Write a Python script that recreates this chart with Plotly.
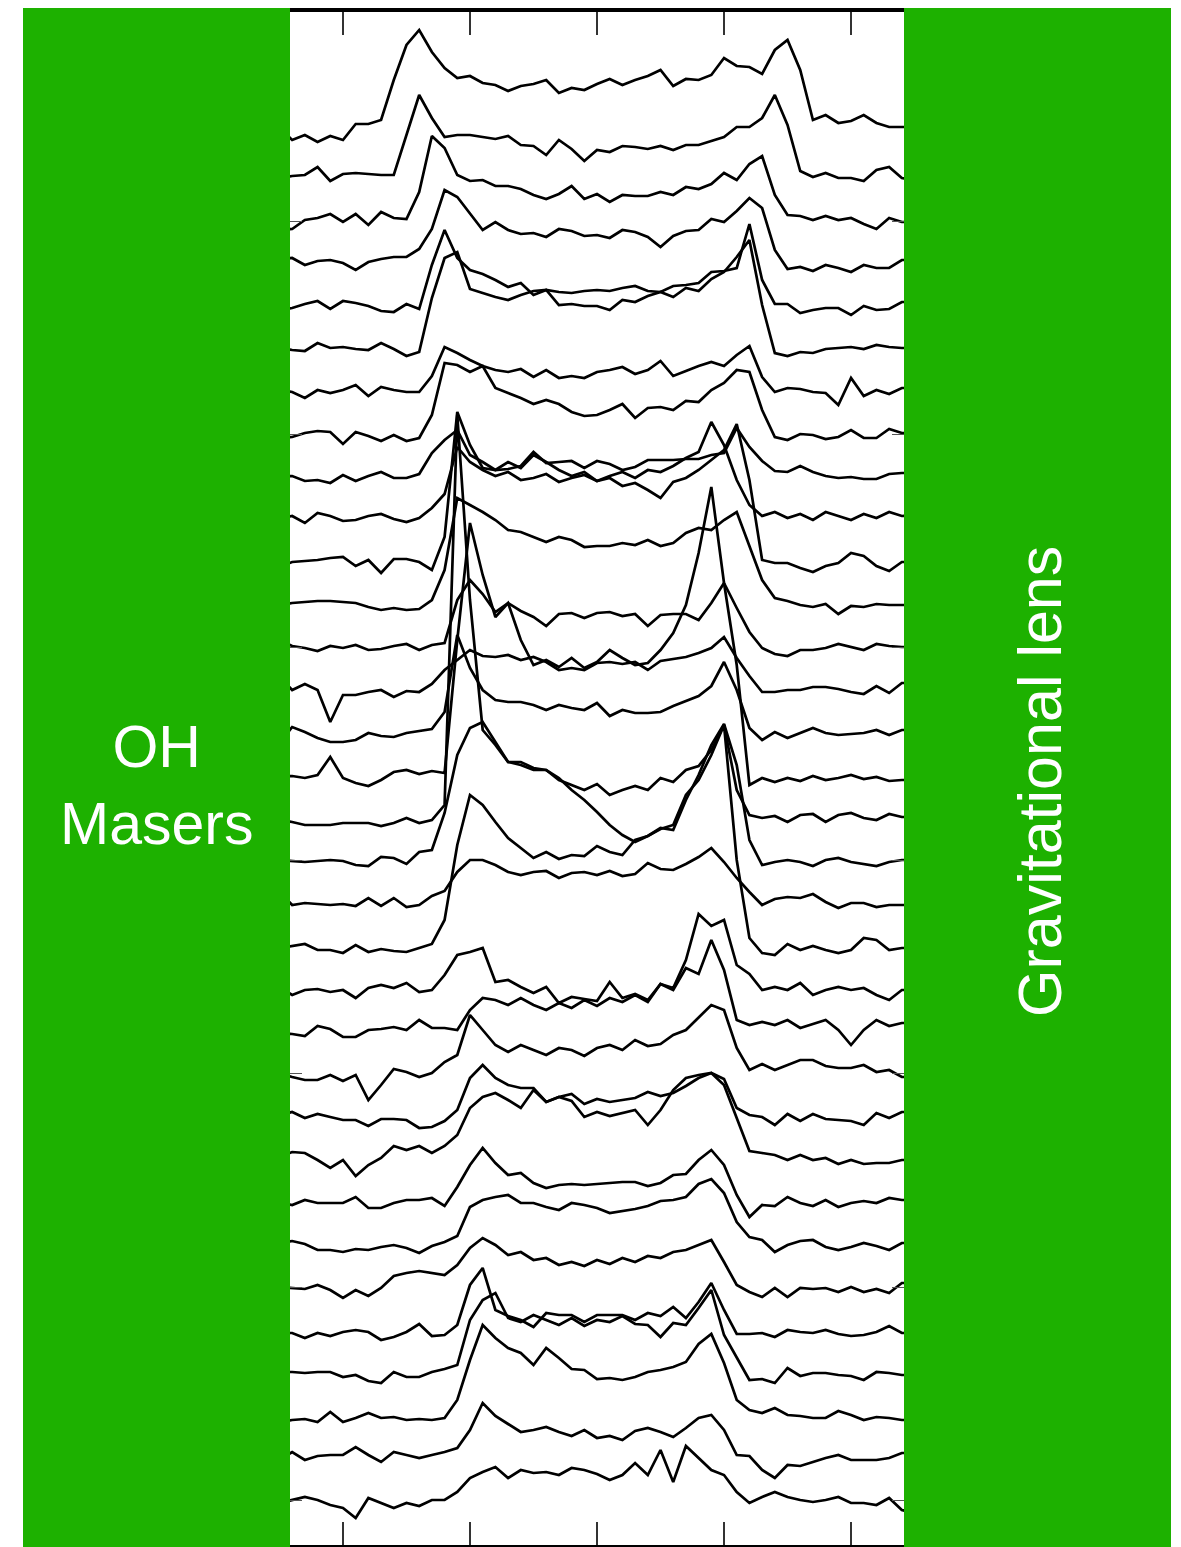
import plotly.graph_objects as go

# Velocity channels (arbitrary units); axis ticks every 10 channels
CHANNELS = [-25, -24, -23, -22, -21, -20, -19, -18, -17, -16, -15, -14, -13, -12, -11, -10,
            -9, -8, -7, -6, -5, -4, -3, -2, -1, 0, 1, 2, 3, 4, 5, 6, 7, 8, 9, 10,
            11, 12, 13, 14, 15, 16, 17, 18, 19, 20, 21, 22, 23, 24, 25]

# Vertical stacking offset of each spectrum (top to bottom)
OFFSETS = [1417, 1367, 1317, 1286, 1235, 1197, 1155, 1107, 1068, 1027, 978, 940, 900, 868,
           802, 768, 725, 685, 653, 597, 558, 512, 472, 430, 388, 342, 302, 258, 212, 173,
           123, 85, 42]

# Spectra (intensity above each spectrum's baseline)
S01 = [0, -12, -7, -14, -8, -12, 4, 4, 8, 48, 83, 98, 76, 60, 50, 52, 45, 43, 37, 42, 44, 48, 35, 40, 38, 44, 49, 43, 48, 52, 58, 42, 49, 48, 53, 70, 62, 61, 54, 78, 88, 58, 8, 13, 5, 7, 13, 5, 1, 1, 1]
S02 = [0, 2, 3, 11, -3, 4, 5, 4, 3, 3, 43, 83, 60, 41, 43, 43, 41, 39, 42, 33, 32, 23, 38, 29, 17, 28, 26, 32, 31, 29, 32, 28, 33, 33, 37, 41, 51, 51, 60, 83, 53, 7, 1, 5, 0, 0, -3, 8, 11, 0, -2]
S03 = [-2, -1, 8, 10, 14, 6, 14, 3, 16, 10, 9, 36, 92, 80, 53, 47, 48, 42, 42, 39, 33, 29, 34, 42, 29, 34, 26, 33, 32, 32, 36, 33, 41, 39, 44, 55, 48, 64, 72, 33, 13, 12, 8, 12, 8, 10, 4, -1, 10, 6, 6]
S04 = [0, 1, -6, -2, -1, -4, -11, -3, 0, 2, 2, 10, 30, 69, 62, 46, 29, 37, 29, 25, 26, 22, 30, 28, 23, 24, 21, 29, 27, 22, 12, 23, 28, 29, 40, 37, 48, 61, 51, 9, -10, -8, -12, -6, -9, -13, -6, -9, -9, -1, -1]
S05 = [0, 2, 6, 9, 1, 9, 7, 4, -1, -2, 6, 1, 45, 80, 52, 40, 36, 30, 23, 27, 15, 20, 18, 17, 19, 20, 19, 22, 24, 19, 18, 24, 25, 27, 38, 39, 42, 86, 30, 6, 6, -3, 0, 2, 2, -5, 4, 0, 1, 8, 8]
S06 = [0, -2, -3, 5, 0, 1, -1, -2, 5, -1, -8, -4, 50, 90, 96, 59, 55, 51, 48, 53, 57, 58, 43, 44, 42, 42, 38, 48, 46, 52, 56, 51, 60, 57, 69, 76, 91, 108, 43, -5, -8, -4, -5, -1, 0, 1, -1, 3, 1, 0, 0]
S07 = [0, -2, -8, 0, -3, 0, 5, -6, 3, 0, -2, -2, 14, 43, 37, 30, 24, 20, 18, 21, 13, 20, 12, 14, 12, 18, 20, 23, 16, 20, 29, 14, 19, 24, 28, 24, 35, 44, 13, -2, 2, 1, -2, -3, -15, 12, -6, 0, -4, 2, 2]
S08 = [0, 1, 5, 7, 6, -6, 6, 2, -3, 3, -3, 0, 23, 75, 73, 66, 72, 50, 45, 40, 34, 38, 34, 26, 22, 23, 28, 34, 20, 30, 31, 28, 37, 36, 48, 55, 68, 66, 28, 1, -2, 4, 3, -1, 1, 8, 0, 0, 9, 5, 5]
S09 = [0, 1, -4, -3, -6, 2, -4, 1, 5, -1, -1, 3, 24, 37, 47, 22, 15, 7, 8, 11, 25, 14, 15, 16, 9, 16, 13, 7, 10, 17, 17, 17, 18, 18, 22, 24, 49, 30, 16, 6, 5, 11, 5, 1, -1, 0, -2, -2, 3, 4, 4]
S10 = [0, 2, -5, 5, 2, -3, -2, 2, 4, -1, -4, 0, 10, 24, 71, 56, 48, 42, 46, 38, 40, 44, 36, 40, 43, 37, 42, 46, 40, 48, 46, 52, 60, 66, 96, 73, 38, 13, 2, 6, 0, 4, -2, 6, 2, -2, 4, 0, 6, 2, 3]
S11 = [0, 5, 6, 7, 9, 10, 1, 7, -6, 8, 8, 5, -3, 30, 155, 122, 99, 97, 105, 99, 112, 105, 97, 91, 95, 86, 89, 81, 84, 77, 69, 85, 89, 97, 107, 117, 143, 87, 7, 4, 4, -1, -5, 1, 4, 14, 11, 1, -4, 5, 5]
S12 = [0, 2, 3, 4, 4, 3, 2, -2, -5, -3, -5, -4, 5, 35, 107, 100, 93, 85, 75, 73, 68, 63, 68, 65, 58, 59, 59, 62, 60, 65, 59, 62, 72, 77, 75, 85, 93, 60, 25, 7, 4, 0, -2, 1, -9, -1, -2, 1, 0, 0, 0]
S13 = [5, -1, -3, -6, -1, -3, 0, -5, -4, -1, 1, -5, 0, 2, 45, 65, 51, 33, 42, 34, 28, 19, 31, 32, 27, 32, 33, 29, 31, 19, 30, 31, 31, 25, 42, 62, 37, 13, -3, -9, -11, -5, -5, -3, 1, -2, -5, 1, -1, -2, -2]
S14 = [0, -13, -7, -13, -45, -18, -18, -15, -13, -20, -14, -15, -7, 7, 17, 27, 21, 20, 22, 17, 20, 15, 7, 9, 7, 14, 15, 13, 15, 7, 16, 18, 20, 24, 29, 40, 19, 1, -15, -15, -13, -13, -10, -10, -12, -15, -17, -9, -16, -6, -6]
S15 = [0, 16, 11, 5, 1, 1, 3, 10, 7, 6, 10, 12, 14, 31, 108, 75, 53, 43, 41, 41, 38, 33, 38, 35, 33, 40, 27, 33, 30, 30, 31, 37, 42, 47, 57, 81, 53, 15, 3, 11, 5, 10, 15, 10, 8, 9, 10, 13, 8, 13, 13]
S16 = [0, 1, -1, 2, 20, -1, -6, -9, -3, 5, 7, 3, 6, 4, 137, 254, 202, 160, 174, 137, 112, 117, 110, 119, 109, 115, 127, 119, 112, 114, 127, 144, 172, 224, 290, 194, 112, -8, -1, -5, -1, -4, 1, -3, -1, 2, -2, 0, -4, -3, -3]
S17 = [0, -2, -5, -5, -5, -3, -3, -3, -6, -3, 2, -3, 0, 15, 405, 220, 90, 75, 58, 55, 50, 50, 40, 35, 30, 36, 25, 30, 34, 30, 42, 38, 50, 54, 70, 95, 30, 5, 2, 4, -2, 5, 6, -2, 5, 7, 2, 0, 6, 3, 3]
S18 = [0, -1, -2, -1, 0, -1, -5, -6, 3, 2, -4, 8, 10, 47, 105, 132, 138, 118, 98, 98, 92, 90, 82, 70, 60, 48, 35, 25, 18, 24, 32, 30, 60, 85, 115, 136, 95, 20, -5, -2, 0, -2, -6, 0, 2, -2, -4, -6, -2, 0, 0]
S19 = [0, -13, -11, -12, -13, -12, -14, -6, -14, -6, -15, -13, -4, 1, 20, 32, 32, 27, 20, 17, 20, 21, 14, 19, 20, 17, 21, 16, 18, 29, 23, 22, 28, 35, 44, 30, 14, 0, -13, -7, -5, -6, -2, -10, -16, -11, -11, -15, -13, -13, -13]
S20 = [0, 2, 4, -2, -2, -5, 3, -4, -1, -3, -4, 0, 4, 28, 103, 153, 143, 126, 110, 100, 90, 96, 89, 93, 92, 102, 96, 93, 108, 112, 119, 123, 153, 168, 193, 223, 88, 10, -5, -7, 4, -2, 2, -2, -5, -2, 10, 8, -2, 0, 0]
S21 = [0, -8, -3, -2, -5, -3, -11, -1, 2, -1, 4, -5, -3, 12, 32, 35, 39, 5, 7, 0, -6, 0, -16, -10, -12, -14, 5, -11, -7, -13, 3, -1, 27, 73, 61, 67, 22, 13, -3, 0, -3, 4, -8, -3, 0, -3, -1, -8, -13, -3, -3]
S22 = [0, -1, -3, 7, 4, -4, -4, 3, 4, 6, 3, 13, 5, 5, 3, 23, 35, 33, 28, 35, 28, 23, 30, 25, 33, 27, 35, 31, 38, 31, 49, 43, 65, 59, 93, 63, 13, 8, 11, 8, 13, 5, 9, 13, 3, -12, 3, 13, 7, 10, 10]
S23 = [0, -4, -7, -7, -2, -8, -2, -27, -12, 4, 1, -4, 0, 11, 18, 58, 43, 28, 21, 28, 23, 18, 25, 23, 17, 25, 28, 23, 33, 27, 29, 38, 43, 55, 68, 63, 25, 3, 9, 3, 8, 13, 13, 7, 5, 5, 8, 1, 3, -4, -4]
S24 = [0, 3, -3, 1, -2, -5, -5, -11, -4, -4, -5, -13, -12, -6, 5, 37, 50, 37, 30, 27, 27, 13, 18, 14, -2, 3, -1, 2, 5, -10, 5, 25, 37, 40, 42, 36, 7, 0, -2, -10, 1, -6, 1, -4, -5, -6, -10, 2, -3, 3, 3]
S25 = [0, 5, 4, -3, -11, -3, -19, -8, -1, 11, 7, 11, 4, 11, 22, 49, 60, 64, 57, 49, 67, 55, 60, 63, 53, 58, 55, 57, 59, 65, 61, 64, 71, 79, 84, 72, 40, 6, 4, 2, -3, 2, -3, -1, -7, -3, -7, -6, -6, -3, -3]
S26 = [0, -2, 3, 0, 0, 0, 6, -5, -5, 0, 3, 3, 5, -3, 16, 38, 55, 40, 28, 30, 20, 15, 18, 19, 18, 19, 20, 21, 21, 17, 20, 28, 29, 43, 53, 38, 8, -14, -2, -3, 6, 0, -3, 3, -4, 0, 2, 0, 5, 3, 3]
S27 = [0, 2, -1, -7, -7, -9, -6, -7, -4, -2, -5, -10, -3, 1, 7, 36, 43, 46, 48, 40, 40, 36, 33, 40, 38, 35, 30, 32, 34, 37, 42, 43, 46, 59, 64, 50, 21, 6, 3, -9, -2, 2, 3, -4, -7, -4, 0, -3, -7, 0, 0]
S28 = [0, -1, -2, 2, -3, -11, -3, -9, -1, 11, 14, 16, 14, 12, 22, 39, 49, 42, 32, 35, 27, 29, 22, 25, 21, 27, 23, 29, 25, 31, 29, 35, 37, 42, 47, 25, 2, -5, -10, -1, -10, -1, -2, -1, -5, 0, -5, -2, -6, 4, 4]
S29 = [0, 0, -5, 0, -3, 1, 3, 1, -7, -4, 1, 9, -3, -2, 8, 48, 65, 23, 17, 13, 6, 20, 18, 18, 11, 18, 18, 18, 13, 20, 17, 26, 15, 31, 50, 23, -1, -1, 0, -4, 3, 1, 0, 3, -1, -3, -2, 1, 7, 0, 0]
S30 = [0, 0, -1, 0, 0, -5, -3, -9, -11, 0, -5, -5, 0, 3, 7, 52, 72, 79, 54, 50, 57, 52, 47, 54, 46, 52, 50, 56, 48, 47, 35, 49, 47, 64, 82, 37, 14, -8, -7, -11, 4, -4, -1, -1, -3, -4, -8, 0, -1, -3, -3]
S31 = [0, 2, 3, 0, 10, 0, 4, 9, 4, 5, 2, 3, 2, 4, 22, 62, 97, 84, 74, 69, 57, 74, 64, 53, 52, 43, 44, 42, 45, 50, 52, 55, 60, 78, 88, 59, 22, 12, 9, 14, 7, 6, 4, 4, 11, 7, 2, 5, 4, 2, 2]
S32 = [0, 8, 0, 4, 5, 5, 13, 5, -2, 8, 5, 2, 5, 8, 12, 30, 57, 44, 36, 28, 30, 33, 28, 24, 30, 22, 24, 20, 29, 32, 28, 23, 32, 42, 45, 30, 5, 4, -10, -18, -5, -6, -2, 2, 5, 0, 0, 0, 2, 7, 7]
S33 = [0, 3, 6, 3, -2, -5, -15, 5, 0, -5, 0, -3, 3, 3, 11, 25, 31, 36, 25, 33, 30, 31, 28, 35, 33, 29, 23, 28, 40, 28, 53, 21, 57, 45, 33, 28, 11, 0, 6, 11, 6, 3, 1, 3, 6, 0, 0, -2, 5, -7, -10]

SPECTRA = [S01, S02, S03, S04, S05, S06, S07, S08, S09, S10, S11, S12, S13, S14, S15, S16,
           S17, S18, S19, S20, S21, S22, S23, S24, S25, S26, S27, S28, S29, S30, S31, S32, S33]

X_TICKS = [-20, -10, 0, 10, 20]
Y_TICKS = [45, 258, 472, 685, 898, 1111, 1324]

LEFT_LABEL = "OH<br>Masers"
RIGHT_LABEL = "Gravitational lens"

# The page body has an 8 px default margin; lay the figure out so that it
# lands on the window exactly like the reference image.
PAGE_MARGIN = 8
W, H = 1181 - PAGE_MARGIN, 1547 - PAGE_MARGIN
GREEN = "#1db100"


def px(x_screen):
    return (x_screen - PAGE_MARGIN) / W


def py(y_screen):
    return (H - (y_screen - PAGE_MARGIN)) / H


fig = go.Figure()
for off, spec in zip(OFFSETS, SPECTRA):
    fig.add_trace(go.Scatter(
        x=CHANNELS, y=[off + v for v in spec], mode="lines",
        line=dict(color="black", width=2.7), hoverinfo="skip", showlegend=False))

fig.update_layout(
    width=W, height=H, margin=dict(l=0, r=0, t=0, b=0),
    paper_bgcolor="white", plot_bgcolor="white", showlegend=False,
    xaxis=dict(domain=[px(290), px(904)], range=[-24.17, 24.17],
               showgrid=False, zeroline=False, showticklabels=False,
               ticks="inside", ticklen=23, tickwidth=1.6, tickcolor="#333",
               tickvals=X_TICKS, showline=True, linecolor="black", linewidth=4,
               mirror="ticks"),
    yaxis=dict(domain=[py(1545), py(11.5)], range=[0, 1533.5],
               showgrid=False, zeroline=False, showticklabels=False,
               ticks="inside", ticklen=12, tickwidth=1.4, tickcolor="#555",
               tickvals=Y_TICKS, showline=False, mirror="ticks"),
    shapes=[
        dict(type="rect", xref="paper", yref="paper", x0=px(23), x1=px(290),
             y0=0, y1=1, fillcolor=GREEN, line=dict(width=0), layer="above"),
        dict(type="rect", xref="paper", yref="paper", x0=px(904), x1=px(1171),
             y0=0, y1=1, fillcolor=GREEN, line=dict(width=0), layer="above"),
    ],
    annotations=[
        dict(text=LEFT_LABEL, xref="paper", yref="paper", x=px(156), y=py(785),
             xanchor="center", yanchor="middle", showarrow=False, align="center",
             font=dict(family="Liberation Sans, Arial, sans-serif", size=59, color="white")),
        dict(text=RIGHT_LABEL, xref="paper", yref="paper", x=px(1040), y=py(782),
             xanchor="center", yanchor="middle", showarrow=False, textangle=-90,
             font=dict(family="Liberation Sans, Arial, sans-serif", size=61, color="white")),
    ],
)

fig.write_html("out.html")
